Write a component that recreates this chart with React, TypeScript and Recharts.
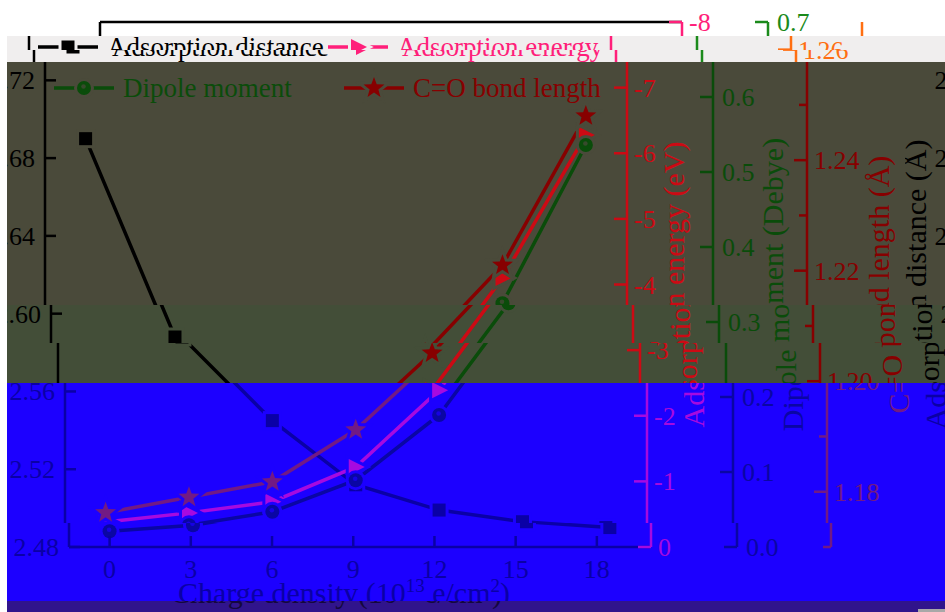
import React from 'react';
import { LineChart, Line, XAxis, YAxis, ReferenceLine, Legend } from 'recharts';

// ---- data -------------------------------------------------------------
const chargeDensity = [0, 3.08, 6.16, 9.24, 12.32, 15.4, 18.48];
const adsorptionDistance = [2.69, 2.588, 2.545, 2.512, 2.499, 2.493, 2.49];
const adsorptionEnergy = [-0.38, -0.52, -0.69, -1.22, -2.39, -4.1, -6.28];
const dipoleMoment = [0.021, 0.029, 0.047, 0.089, 0.176, 0.325, 0.536];
const bondLength = [1.1762, 1.179, 1.1818, 1.1912, 1.2051, 1.221, 1.248];

const xTicks = [0, 3, 6, 9, 12, 15, 18];
const distanceTicks = [2.48, 2.52, 2.56, 2.6, 2.64, 2.68, 2.72];
const energyTicks = [-8, -7, -6, -5, -4, -3, -2, -1, 0];
const dipoleTicks = [0, 0.1, 0.2, 0.3, 0.4, 0.5, 0.6, 0.7];
const bondTicks = [1.17, 1.18, 1.19, 1.2, 1.21, 1.22, 1.23, 1.24, 1.25, 1.26];

const seriesNames = {
  dist: 'Adsorption distance',
  energy: 'Adsorption energy',
  dipole: 'Dipole moment',
  bond: 'C=O bond length',
};

const rows = chargeDensity.map((x, i) => ({
  x,
  dist: adsorptionDistance[i],
  energy: adsorptionEnergy[i],
  dipole: dipoleMoment[i],
  bond: bondLength[i],
}));

// ---- styling ----------------------------------------------------------
const W = 945;
const H = 612;
const SERIF = '"Liberation Serif", "Times New Roman", serif';
const AXIS_W = 2.5;
const LINE_W = 3.5;

type Palette = { bg: string; dist: string; energy: string; dipole: string; bond: string };

const brightPal: Palette = { bg: '#ffffff', dist: '#000000', energy: '#ff1f7a', dipole: '#1b8a1b', bond: '#ff6f12' };
const grayPal: Palette = { ...brightPal, bg: '#f0eeee' };
const olivePal: Palette = { bg: '#4a4a3a', dist: '#000000', energy: '#cc0a14', dipole: '#0a4c0a', bond: '#870000' };
const mossPal: Palette = { ...olivePal, bg: '#434e38' };
const bluePal: Palette = { bg: '#1c00ff', dist: '#0a00a6', energy: '#a60ae0', dipole: '#0a06a4', bond: '#721a84' };
const stripPal: Palette = { bg: '#30148c', dist: '#14083e', energy: '#14083e', dipole: '#14083e', bond: '#14083e' };

// horizontal strips of the figure, each with its own offset and colouring
const bands = [
  { top: 0, bottom: 36, shift: 15, pal: brightPal },
  { top: 36, bottom: 50, shift: -56, pal: grayPal },
  { top: 50, bottom: 62, shift: -51, pal: grayPal },
  { top: 62, bottom: 305, shift: -40, pal: olivePal },
  { top: 305, bottom: 343, shift: -34, pal: mossPal },
  { top: 343, bottom: 383, shift: -27, pal: mossPal },
  { top: 383, bottom: 523, shift: -20, pal: bluePal },
  { top: 523, bottom: 601, shift: -16, pal: bluePal },
  { top: 601, bottom: 612, shift: -24, pal: stripPal },
];

// ---- markers ----------------------------------------------------------
function starPath(cx: number, cy: number, R: number, r: number) {
  let d = '';
  for (let i = 0; i < 10; i++) {
    const a = -Math.PI / 2 + (i * Math.PI) / 5;
    const rad = i % 2 === 0 ? R : r;
    d += `${i === 0 ? 'M' : 'L'}${cx + rad * Math.cos(a)},${cy + rad * Math.sin(a)}`;
  }
  return d + 'Z';
}

function Marker({ kind, cx, cy, pal }: { kind: string; cx: number; cy: number; pal: Palette }) {
  const halo = { stroke: pal.bg, strokeWidth: 6, paintOrder: 'stroke' as const };
  if (kind === 'dist') {
    return <rect x={cx - 6.5} y={cy - 6.5} width={13} height={13} fill={pal.dist} {...halo} />;
  }
  if (kind === 'energy') {
    return <path d={`M${cx - 7},${cy - 8}L${cx + 9},${cy}L${cx - 7},${cy + 8}Z`} fill={pal.energy} {...halo} />;
  }
  if (kind === 'dipole') {
    return (
      <g>
        <circle cx={cx} cy={cy} r={7} fill={pal.dipole} {...halo} />
        <circle cx={cx - 0.5} cy={cy - 1.5} r={2.3} fill={pal.bg} opacity={0.7} />
      </g>
    );
  }
  return <path d={starPath(cx, cy, 11, 4.6)} fill={pal.bond} {...halo} />;
}

const dotFor = (kind: string, pal: Palette) => (p: any) => (
  <g key={`${kind}-${p.index}`}>
    <Marker kind={kind} cx={p.cx} cy={p.cy} pal={pal} />
  </g>
);

// ---- ticks (all tick marks point into the plot) ----------------------
const XTick = (p: any) => {
  const { x, y, payload, pal } = p;
  const axisY = y - 8;
  return (
    <g>
      <line x1={x} x2={x} y1={axisY} y2={axisY - 11} stroke={pal.dist} strokeWidth={AXIS_W} />
      <text x={x} y={y} dy={23} textAnchor="middle" fontSize={26} fill={pal.dist} fontFamily={SERIF}>
        {payload.value}
      </text>
    </g>
  );
};

const LeftTick = (p: any) => {
  const { x, y, payload, pal } = p;
  const axisX = x + 10;
  return (
    <g>
      <line x1={axisX} x2={axisX + 11} y1={y} y2={y} stroke={pal.dist} strokeWidth={AXIS_W} />
      <text x={x} y={y} dy={9} textAnchor="end" fontSize={26} fill={pal.dist} fontFamily={SERIF}>
        {Number(payload.value).toFixed(2)}
      </text>
    </g>
  );
};

const RightTick = (p: any) => {
  const { x, y, payload, color, margin, fmt, minorOf } = p;
  const axisX = x - margin;
  const v = Number(payload.value);
  const minor = minorOf ? minorOf(v) : false;
  const len = minor ? 8 : 13;
  return (
    <g>
      <line x1={axisX - len} x2={axisX} y1={y} y2={y} stroke={color} strokeWidth={AXIS_W} />
      {!minor && (
        <text x={x} y={y} dy={9} textAnchor="start" fontSize={26} fill={color} fontFamily={SERIF}>
          {fmt(v)}
        </text>
      )}
    </g>
  );
};

// ---- axis titles ------------------------------------------------------
const YTitle = (p: any) => {
  const { viewBox, text, dx, color } = p;
  const vb = viewBox || { x: 0, y: 22, width: 0, height: 525 };
  const cx = vb.x + dx;
  const cy = vb.y + vb.height / 2;
  return (
    <text
      x={cx}
      y={cy}
      transform={`rotate(-90 ${cx} ${cy})`}
      textAnchor="middle"
      dominantBaseline="central"
      fontSize={30}
      fill={color}
      fontFamily={SERIF}
    >
      {text}
    </text>
  );
};

const XTitle = (p: any) => {
  const { viewBox, color } = p;
  const vb = viewBox || { x: 85, y: 547, width: 582, height: 65 };
  return (
    <text x={vb.x + vb.width / 2 - 16} y={vb.y + 56} textAnchor="middle" fontSize={30} fill={color} fontFamily={SERIF}>
      Charge density (10
      <tspan dy={-11} fontSize={19}>13</tspan>
      <tspan dy={11}> e/cm</tspan>
      <tspan dy={-11} fontSize={19}>2</tspan>
      <tspan dy={11}>)</tspan>
    </text>
  );
};

// ---- legend -----------------------------------------------------------
const legendSlots = [
  { key: 'dist', x: 94, y: 47 },
  { key: 'energy', x: 384, y: 47 },
  { key: 'dipole', x: 94, y: 88 },
  { key: 'bond', x: 384, y: 88 },
];

const LegendBlock = ({ pal }: { pal: Palette }) => (
  <svg width={W} height={110} style={{ display: 'block', overflow: 'visible' }}>
    {legendSlots.map((s) => {
      const color = (pal as any)[s.key];
      return (
        <g key={s.key}>
          <line x1={s.x} x2={s.x + 60} y1={s.y} y2={s.y} stroke={color} strokeWidth={LINE_W} />
          <Marker kind={s.key} cx={s.x + 30} cy={s.y} pal={pal} />
          <text x={s.x + 69} y={s.y + 9} fontSize={27} fill={color} fontFamily={SERIF}>
            {(seriesNames as any)[s.key]}
          </text>
        </g>
      );
    })}
  </svg>
);

// ---- chart ------------------------------------------------------------
// right-hand axis ids sort innermost first: r1 energy, r2 dipole, r3 bond length
function Figure({ pal }: { pal: Palette }) {
  return (
    <LineChart width={W} height={H} data={rows} margin={{ top: 22, right: 0, bottom: 0, left: 0 }}>
      <XAxis
        dataKey="x"
        type="number"
        domain={[-1.5, 20]}
        ticks={xTicks}
        interval={0}
        allowDataOverflow
        height={65}
        tickLine={false}
        tickSize={0}
        tickMargin={8}
        axisLine={{ stroke: pal.dist, strokeWidth: AXIS_W }}
        tick={(p: any) => <XTick {...p} pal={pal} />}
        label={<XTitle color={pal.dist} />}
      />
      <YAxis
        yAxisId="l1"
        orientation="left"
        width={85}
        type="number"
        domain={[2.48, 2.75]}
        ticks={distanceTicks}
        interval={0}
        allowDataOverflow
        tickLine={false}
        tickSize={0}
        tickMargin={10}
        axisLine={{ stroke: pal.dist, strokeWidth: AXIS_W }}
        tick={(p: any) => <LeftTick {...p} pal={pal} />}
        label={<YTitle text="Adsorption distance (Å)" dx={10} color={pal.dist} />}
      />
      <YAxis
        yAxisId="r1"
        orientation="right"
        width={86}
        type="number"
        reversed
        domain={[-8, 0]}
        ticks={energyTicks}
        interval={0}
        allowDataOverflow
        tickLine={false}
        tickSize={0}
        tickMargin={7}
        axisLine={{ stroke: pal.energy, strokeWidth: AXIS_W }}
        tick={(p: any) => <RightTick {...p} color={pal.energy} margin={7} fmt={(v: number) => String(v)} />}
        label={<YTitle text="Adsorption energy (eV)" dx={46} color={pal.energy} />}
      />
      <YAxis
        yAxisId="r2"
        orientation="right"
        width={94}
        type="number"
        domain={[0, 0.7]}
        ticks={dipoleTicks}
        interval={0}
        allowDataOverflow
        tickLine={false}
        tickSize={0}
        tickMargin={9}
        axisLine={{ stroke: pal.dipole, strokeWidth: AXIS_W }}
        tick={(p: any) => <RightTick {...p} color={pal.dipole} margin={9} fmt={(v: number) => v.toFixed(1)} />}
        label={<YTitle text="Dipole moment (Debye)" dx={59} color={pal.dipole} />}
      />
      <YAxis
        yAxisId="r3"
        orientation="right"
        width={98}
        type="number"
        domain={[1.17, 1.265]}
        ticks={bondTicks}
        interval={0}
        allowDataOverflow
        tickLine={false}
        tickSize={0}
        tickMargin={7}
        axisLine={{ stroke: pal.bond, strokeWidth: AXIS_W }}
        tick={(p: any) => (
          <RightTick
            {...p}
            color={pal.bond}
            margin={7}
            fmt={(v: number) => v.toFixed(2)}
            minorOf={(v: number) => Math.round(v * 100) % 2 === 1}
          />
        )}
        label={<YTitle text="C=O bond length (Å)" dx={71} color={pal.bond} />}
      />
      <ReferenceLine yAxisId="l1" y={2.75} stroke={pal.dist} strokeWidth={AXIS_W} />
      <Line yAxisId="l1" dataKey="dist" name={seriesNames.dist} stroke={pal.dist} strokeWidth={LINE_W} dot={dotFor('dist', pal)} isAnimationActive={false} />
      <Line yAxisId="r1" dataKey="energy" name={seriesNames.energy} stroke={pal.energy} strokeWidth={LINE_W} dot={dotFor('energy', pal)} isAnimationActive={false} />
      <Line yAxisId="r2" dataKey="dipole" name={seriesNames.dipole} stroke={pal.dipole} strokeWidth={LINE_W} dot={dotFor('dipole', pal)} isAnimationActive={false} />
      <Line yAxisId="r3" dataKey="bond" name={seriesNames.bond} stroke={pal.bond} strokeWidth={LINE_W} dot={dotFor('bond', pal)} isAnimationActive={false} />
      <Legend
        layout="vertical"
        align="center"
        verticalAlign="middle"
        wrapperStyle={{ left: 0, top: 0, width: W, height: 110 }}
        content={() => <LegendBlock pal={pal} />}
      />
    </LineChart>
  );
}

export default function App() {
  return (
    <div style={{ position: 'absolute', left: 0, top: 0, width: W, height: H, overflow: 'hidden', background: '#ffffff' }}>
      {bands.map((b, i) => {
        const copies = [b.shift, b.shift < 0 ? b.shift + W : b.shift - W];
        return (
          <div
            key={i}
            style={{
              position: 'absolute',
              left: 0,
              top: b.top,
              width: W,
              height: b.bottom - b.top,
              overflow: 'hidden',
              background: b.pal.bg,
            }}
          >
            {copies.map((dx, j) => (
              <div key={j} style={{ position: 'absolute', left: dx, top: -b.top, width: W, height: H }}>
                <Figure pal={b.pal} />
              </div>
            ))}
          </div>
        );
      })}
      {/* white margin down the left edge and the pale corner bottom right */}
      <div style={{ position: 'absolute', left: 0, top: 36, width: 7, height: H - 36, background: '#ffffff' }} />
      <div style={{ position: 'absolute', left: 918, top: 609, width: 27, height: 3, background: '#a8a8a8' }} />
    </div>
  );
}
